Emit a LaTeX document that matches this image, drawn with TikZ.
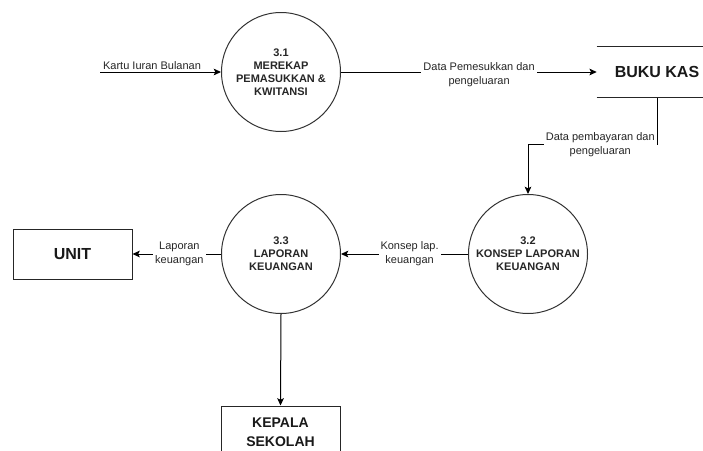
\documentclass[tikz,border=0pt]{standalone}
\usepackage{fontspec}
\setmainfont{Liberation Sans}
\usetikzlibrary{arrows.meta}

\tikzset{
  proc/.style={circle, draw=black!80, line width=0.75pt, minimum size=89.25pt,
    inner sep=0pt, align=center, text=black!85,
    font=\bfseries\fontsize{8.25}{9.75}\selectfont},
  ent/.style={rectangle, draw=black!85, line width=0.75pt, minimum width=89.25pt,
    minimum height=37.5pt, inner sep=0pt, align=center, text=black!90,
    font=\bfseries\fontsize{12}{14}\selectfont},
  store/.style={rectangle, minimum width=90pt, minimum height=38.25pt,
    inner sep=0pt, align=center, text=black!90,
    font=\bfseries\fontsize{12}{14}\selectfont},
  lbl/.style={fill=white, inner sep=1.5pt, align=center, text=black!85,
    font=\fontsize{8.25}{10.5}\selectfont},
  flow/.style={draw=black, line width=0.75pt,
    -{Stealth[length=5.5pt,width=5pt,inset=1.2pt]}},
}

\begin{document}
\begin{tikzpicture}[x=0.75pt, y=-0.75pt]
  \useasboundingbox (0,0) rectangle (703,450);
  \clip (0,0) rectangle (703,450);

  % processes
  \node[proc] (p31) at (281,72) {3.1\\MEREKAP\\PEMASUKKAN \&\\KWITANSI};
  \node[proc] (p32) at (528,254) {3.2\\KONSEP LAPORAN\\KEUANGAN};
  \node[proc] (p33) at (281,254) {3.3\\LAPORAN\\KEUANGAN};

  % data store (open on both sides)
  \node[store] (bk) at (657,72) {BUKU KAS};
  \draw[black!85, line width=0.75pt] (bk.north west) -- (bk.north east);
  \draw[black!85, line width=0.75pt] (bk.south west) -- (bk.south east);

  % external entities
  \node[ent] (unit) at (72.5,254) {UNIT};
  \node[ent, minimum height=39pt, font=\bfseries\fontsize{10.5}{14}\selectfont]
    (kep) at (280.5,432) {KEPALA\\SEKOLAH};

  \coordinate (kin) at (100,72);

  % data flows
  \draw[flow] (kin) -- node[lbl, fill=none, above, pos=0.43] {Kartu Iuran Bulanan} (p31.west);
  \draw[flow] (p31.east) -- node[lbl, pos=0.54, yshift=-2pt] {Data Pemesukkan dan\\pengeluaran} (bk.west);
  \draw[flow] (bk.south) -- ++(0,47) -| node[lbl, pos=0.22] {Data pembayaran dan\\pengeluaran} (p32.north);
  \draw[flow] (p32.west) -- node[lbl, pos=0.46] {Konsep lap.\\keuangan} (p33.east);
  \draw[flow] (p33.west) -- node[lbl, pos=0.47] {Laporan\\keuangan} (unit.east);
  \draw[flow] (p33.south) -- (kep.north);
\end{tikzpicture}
\end{document}
